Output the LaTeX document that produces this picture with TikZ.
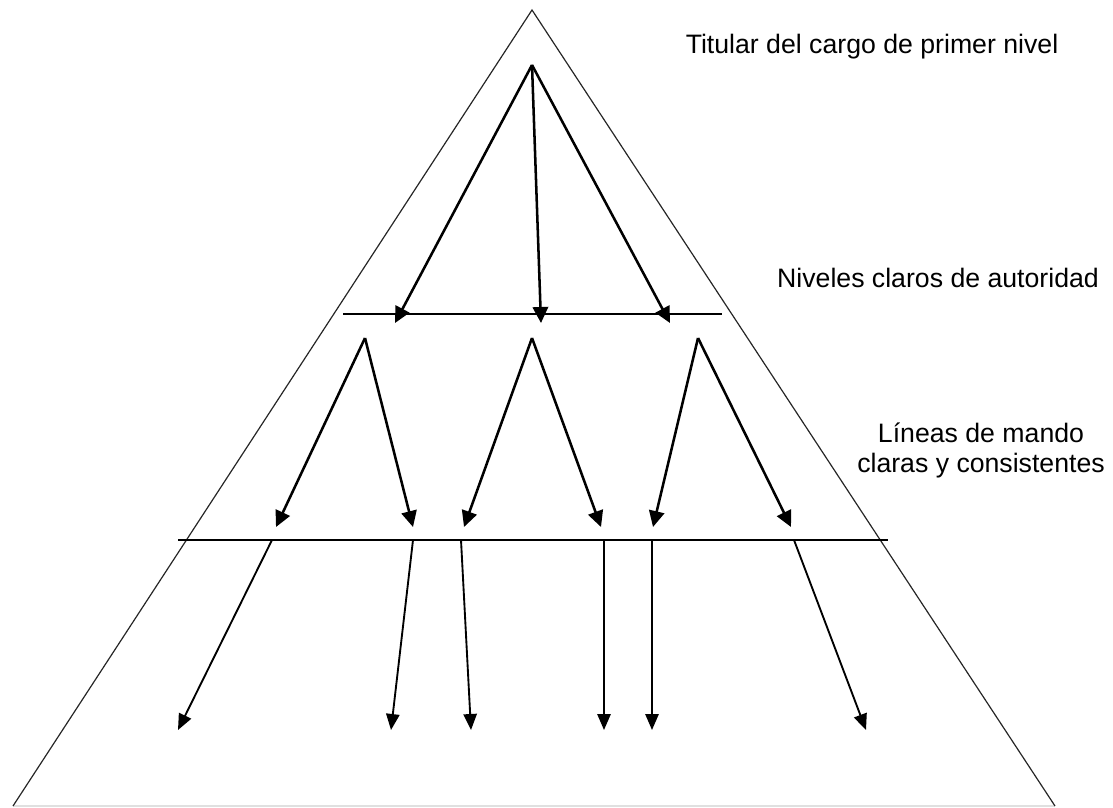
\documentclass[tikz,border=0pt]{standalone}
\usepackage{fontspec}
\setmainfont{Liberation Sans}
\usetikzlibrary{arrows.meta}
\begin{document}
\begin{tikzpicture}[x=0.75pt,y=-0.75pt,
  edge/.style={line width=0.9pt,draw=black!85},
  base/.style={line width=0.8pt,draw=black!12},
  bar/.style={line width=1.9pt},
  arr/.style={line width=1.9pt,-{Triangle[length=12pt,width=11.5pt]}},
  arrthin/.style={line width=1.4pt,-{Triangle[length=12pt,width=10pt]}},
  lbl/.style={font=\fontsize{20}{22.5}\selectfont,inner sep=0pt,text=black}]
\useasboundingbox (0,0) rectangle (1113,807);
% pyramid
\coordinate (apex) at (532,10);
\coordinate (bl) at (13,806);
\coordinate (br) at (1055,806);
\draw[base] (bl) -- (br);
\draw[edge] (bl) -- (apex) -- (br);
% level 1
\coordinate (top) at (532,65);
\coordinate (a1) at (395,323);
\coordinate (a2) at (541,323);
\coordinate (a3) at (670,323);
\coordinate (h1l) at (343,314);
\coordinate (h1r) at (722,314);
\draw[bar] (h1l) -- (h1r);
\draw[arr] (top) -- (a1);
\draw[arr] (top) -- (a2);
\draw[arr] (top) -- (a3);
% level 2
\coordinate (b1) at (365,338);
\coordinate (b2) at (532,338);
\coordinate (b3) at (698,338);
\coordinate (c1) at (276,527);
\coordinate (c2) at (413,527);
\coordinate (c3) at (464,527);
\coordinate (c4) at (601,527);
\coordinate (c5) at (653,527);
\coordinate (c6) at (791,527);
\draw[arr] (b1) -- (c1);
\draw[arr] (b1) -- (c2);
\draw[arr] (b2) -- (c3);
\draw[arr] (b2) -- (c4);
\draw[arr] (b3) -- (c5);
\draw[arr] (b3) -- (c6);
\coordinate (h2l) at (178,540);
\coordinate (h2r) at (888,540);
\draw[bar] (h2l) -- (h2r);
% level 3
\coordinate (d1) at (272,540);
\coordinate (d2) at (413,540);
\coordinate (d3) at (461,540);
\coordinate (d4) at (604,540);
\coordinate (d5) at (652,540);
\coordinate (d6) at (794,540);
\coordinate (e1) at (178,730);
\coordinate (e2) at (391,730);
\coordinate (e3) at (471,730);
\coordinate (e4) at (604,730);
\coordinate (e5) at (652,730);
\coordinate (e6) at (866,730);
\draw[arrthin] (d1) -- (e1);
\draw[arrthin] (d2) -- (e2);
\draw[arrthin] (d3) -- (e3);
\draw[arrthin] (d4) -- (e4);
\draw[arrthin] (d5) -- (e5);
\draw[arrthin] (d6) -- (e6);
% labels
\node[lbl,anchor=base] (t1) at (872,53) {Titular del cargo de primer nivel};
\node[lbl,anchor=base] (t2) at (938,287) {Niveles claros de autoridad};
\node[lbl,anchor=base,align=center] (t3) at (981,472) {Líneas de mando\\claras y consistentes};
\end{tikzpicture}
\end{document}
